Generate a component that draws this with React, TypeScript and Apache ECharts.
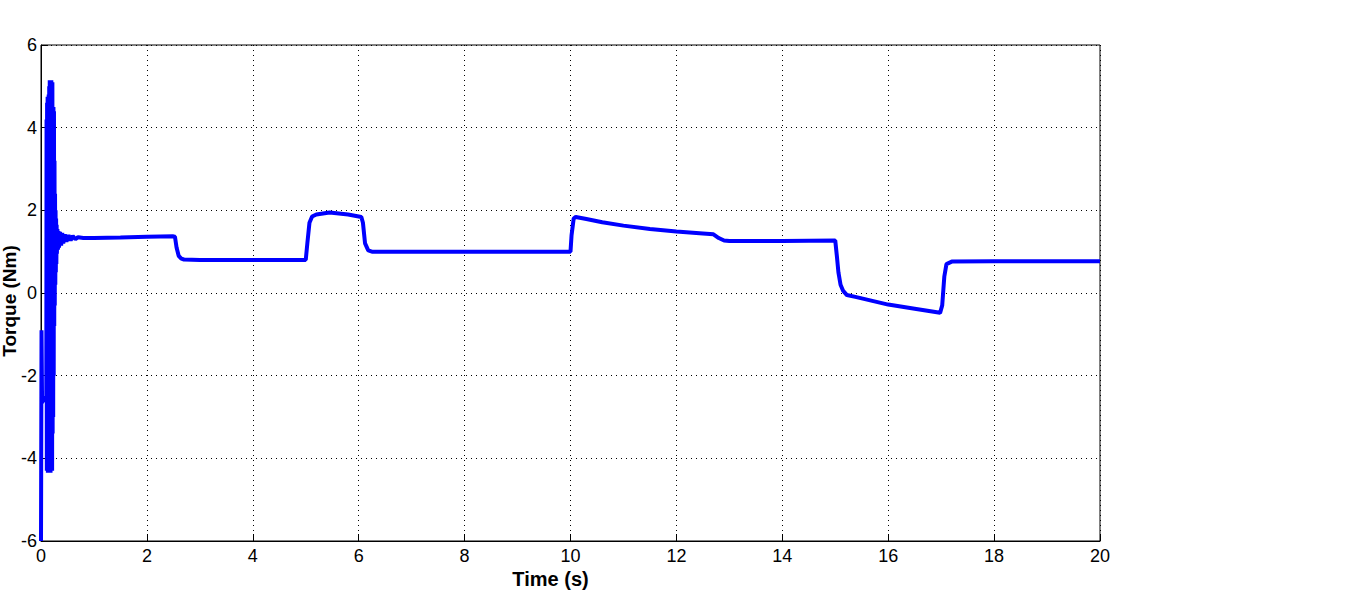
import React, { useEffect, useRef } from "react";
import * as echarts from "echarts";

// Time samples (s)
const timeS: number[] = [
  0, 0.01, 0.02, 0.06, 0.1,
  0.105, 0.11, 0.115, 0.12, 0.125, 0.13, 0.135, 0.14, 0.145, 0.15,
  0.155, 0.16, 0.165, 0.17, 0.175, 0.18, 0.185, 0.19, 0.195, 0.2,
  0.205, 0.21, 0.215, 0.22, 0.225, 0.23, 0.235, 0.24, 0.245, 0.25,
  0.255, 0.26, 0.265, 0.27, 0.275, 0.28, 0.285, 0.29, 0.295, 0.3,
  0.31, 0.32, 0.33, 0.34, 0.36, 0.38, 0.4, 0.42, 0.45, 0.48, 0.52, 0.56, 0.6, 0.65, 0.7, 0.8,
  1.0, 1.5, 2.0, 2.5, 2.53, 2.56, 2.6, 2.65, 2.7, 3.0, 4.0, 5.0,
  5.03, 5.07, 5.12, 5.2, 5.45, 5.8, 6.05, 6.08, 6.12, 6.18, 6.25, 8.0, 10.0,
  10.02, 10.06, 10.1, 10.3, 10.6, 11.0, 11.5, 12.0, 12.5, 12.7, 12.8, 12.9, 13.0, 14.0, 15.0,
  15.03, 15.06, 15.1, 15.15, 15.22, 15.4, 16.0, 16.5, 16.98,
  17.02, 17.06, 17.1, 17.2, 18.0, 20.0,
];

// Torque samples (Nm)
const torqueNm: number[] = [
  -6.0, -0.9, -2.65, -2.55, -2.5,
  4.2, -4.3, 4.6, -4.3, 4.75, -4.35, 4.75, -4.35, 4.8, -4.35,
  5.0, -4.35, 5.15, -4.35, 5.15, -4.35, 5.15, -4.3, 5.15, -4.3,
  5.1, -4.3, 5.1, -3.4, 4.5, -3.0, 4.5, -2.0, 4.4, -0.8,
  3.2, -0.3, 2.4, 0.2, 2.0, 0.5, 1.8, 0.7, 1.65, 0.95,
  1.55, 1.05, 1.5, 1.1, 1.48, 1.15, 1.45, 1.2, 1.42, 1.24, 1.4, 1.27, 1.38, 1.3, 1.35, 1.33,
  1.33, 1.34, 1.36, 1.37, 1.36, 1.1, 0.9, 0.83, 0.81, 0.8, 0.8, 0.8,
  1.2, 1.7, 1.85, 1.9, 1.95, 1.9, 1.84, 1.7, 1.2, 1.03, 1.0, 1.0, 1.0,
  1.4, 1.8, 1.84, 1.79, 1.71, 1.63, 1.55, 1.49, 1.44, 1.42, 1.33, 1.27, 1.26, 1.26, 1.27,
  0.9, 0.5, 0.2, 0.05, -0.05, -0.1, -0.28, -0.38, -0.48,
  -0.3, 0.4, 0.7, 0.76, 0.77, 0.77,
];

const xTicks: number[] = [0, 2, 4, 6, 8, 10, 12, 14, 16, 18, 20];
const yTicks: number[] = [-6, -4, -2, 0, 2, 4, 6];

export default function App() {
  const ref = useRef<HTMLDivElement>(null);

  useEffect(() => {
    if (!ref.current) return;
    const chart = echarts.init(ref.current, undefined, { renderer: "svg" });
    const data = timeS.map((t, i) => [t, torqueNm[i]]);
    const font = "'Liberation Sans', Arial, Helvetica, sans-serif";
    chart.setOption({
      animation: false,
      backgroundColor: "#ffffff",
      grid: {
        left: 41,
        top: 45,
        right: 267,
        bottom: 67,
        containLabel: false,
        outerBoundsMode: "none",
        show: true,
        borderColor: "#000",
        borderWidth: 1,
        backgroundColor: "transparent",
      },
      xAxis: {
        type: "value",
        min: xTicks[0],
        max: xTicks[xTicks.length - 1],
        interval: 2,
        name: "Time (s)",
        nameLocation: "middle",
        nameGap: 28,
        nameMoveOverlap: false,
        nameTextStyle: {
          fontSize: 20,
          fontWeight: "bold",
          color: "#000",
          fontFamily: font,
          padding: [0, 40, 0, 0],
        },
        axisLine: { show: true, onZero: false, lineStyle: { color: "#000", width: 1 } },
        axisTick: { show: true, inside: true, length: 7, lineStyle: { color: "#000" } },
        axisLabel: { fontSize: 18, color: "#000", fontFamily: font, margin: 6 },
        splitLine: { show: true, lineStyle: { color: "#000", type: [1, 4], width: 1 } },
      },
      yAxis: {
        type: "value",
        min: yTicks[0],
        max: yTicks[yTicks.length - 1],
        interval: 2,
        name: "Torque (Nm)",
        nameLocation: "middle",
        nameGap: 22,
        nameMoveOverlap: false,
        nameTextStyle: {
          fontSize: 19,
          fontWeight: "bold",
          color: "#000",
          fontFamily: font,
          padding: [0, 16, 0, 0],
        },
        axisLine: { show: true, onZero: false, lineStyle: { color: "#000", width: 1 } },
        axisTick: { show: true, inside: true, length: 7, lineStyle: { color: "#000" } },
        axisLabel: { fontSize: 18, color: "#000", fontFamily: font, margin: 4 },
        splitLine: { show: true, lineStyle: { color: "#000", type: [1, 4], width: 1 } },
      },
      series: [
        {
          type: "line",
          data,
          showSymbol: false,
          lineStyle: { color: "#0000ff", width: 4 },
          itemStyle: { color: "#0000ff" },
        },
      ],
    });
    return () => chart.dispose();
  }, []);

  return (
    <div
      ref={ref}
      style={{ position: "fixed", left: 0, top: 0, width: 1367, height: 608, background: "#fff" }}
    />
  );
}
